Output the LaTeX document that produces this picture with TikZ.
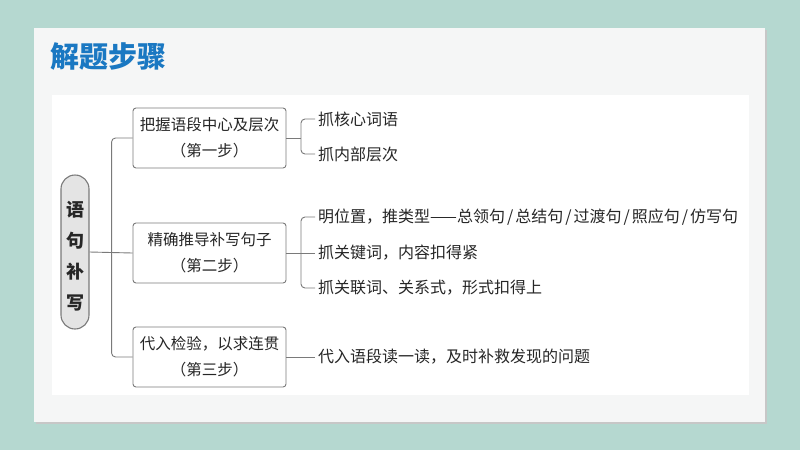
\documentclass[tikz,border=0pt]{standalone}
\usepackage{fontspec}
\setmainfont{Noto Sans CJK SC}
\definecolor{bgteal}{HTML}{B5D8D0}
\definecolor{panel}{HTML}{F5F6F6}
\definecolor{titleblue}{HTML}{1A78C2}
\definecolor{linegray}{HTML}{7A7A7A}
\definecolor{txt}{HTML}{262626}
\definecolor{pillfill}{HTML}{E4E4E4}
\tikzset{
  stepbox/.style={draw=linegray, line width=0.9pt, rounded corners=3pt, fill=white,
    minimum width=153pt, minimum height=60pt, inner sep=0pt, align=center,
    text=txt, font=\fontsize{15.5}{26}\selectfont},
  itemtext/.style={anchor=west, inner sep=0pt, text=txt, font=\fontsize{16}{16}\selectfont},
  conn/.style={draw=linegray, line width=0.9pt, rounded corners=4pt},
  rootpill/.style={draw=linegray, line width=1.1pt, fill=pillfill, rounded corners=14pt,
    minimum width=28pt, minimum height=154pt, inner sep=0pt},
  roottext/.style={text=txt, font=\fontsize{18}{18}\selectfont\bfseries, inner sep=0pt},
}
\newcommand{\myslash}{\kern2pt/\kern2pt}
\begin{document}
\begin{tikzpicture}[x=1pt,y=-1pt]
\useasboundingbox (0,0) rectangle (800,450);
\fill[bgteal] (0,0) rectangle (800,450);
\fill[black!22] (36,30) rectangle (767,424);
\fill[panel] (34,28) rectangle (765,422);
\fill[white] (52,95) rectangle (749,395);
\node[anchor=west, inner sep=0pt, text=titleblue, font=\fontsize{29}{29}\selectfont\bfseries] (title) at (50,57) {解题步骤};

\node[rootpill] (root) at (75,252) {};
\node[roottext] (r1) at (75,210) {语};
\node[roottext] (r2) at (75,241) {句};
\node[roottext] (r3) at (75,272) {补};
\node[roottext] (r4) at (75,303) {写};

\node[stepbox] (b1) at (209.5,138) {把握语段中心及层次\\（第一步）};
\node[stepbox] (b2) at (209.5,253) {精确推导补写句子\\（第二步）};
\node[stepbox] (b3) at (209.5,357) {代入检验，以求连贯\\（第三步）};

\draw[conn] (root.east) -- (b2.west);
\draw[conn] (b1.west) -- ++(-21,0) |- (b3.west);

\node[itemtext] (i11) at (318,119) {抓核心词语};
\node[itemtext] (i12) at (318,154) {抓内部层次};
\node[itemtext] (i21) at (318,217) {明位置，推类型——总领句\myslash 总结句\myslash 过渡句\myslash 照应句\myslash 仿写句};
\node[itemtext] (i22) at (318,253) {抓关键词，内容扣得紧};
\node[itemtext] (i23) at (318,288) {抓关联词、关系式，形式扣得上};
\node[itemtext] (i31) at (318,357) {代入语段读一读，及时补救发现的问题};

\draw[conn] (b1.east) -- ++(15,0);
\draw[conn] ([xshift=-3pt]i11.west) -- ++(-14,0) |- ([xshift=-3pt]i12.west);
\draw[conn] (b2.east) -- ([xshift=-3pt]i22.west);
\draw[conn] ([xshift=-3pt]i21.west) -- ++(-14,0) |- ([xshift=-3pt]i23.west);
\draw[conn] (b3.east) -- ([xshift=-3pt]i31.west);
\end{tikzpicture}
\end{document}
